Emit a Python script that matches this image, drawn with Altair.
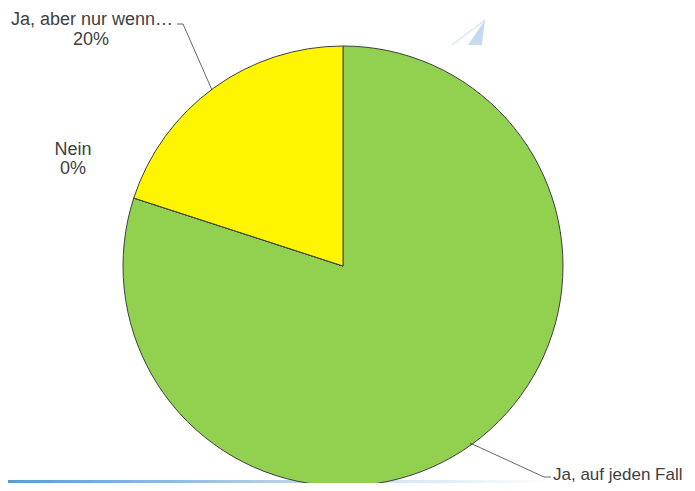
import altair as alt
import pandas as pd

categories = ["Ja, auf jeden Fall", "Nein", "Ja, aber nur wenn…"]
values = [80, 0, 20]
colors = ["#92D050", "#FFFFFF", "#FFF500"]
order = [0, 1, 2]

pie_df = pd.DataFrame({"cat": categories, "val": values, "ord": order})

CX, CY, R = 335, 258, 220

pie = alt.Chart(pie_df).mark_arc(stroke="#404040", strokeWidth=1, outerRadius=R).encode(
    theta=alt.Theta("val:Q", stack=True),
    order=alt.Order("ord:Q"),
    color=alt.Color("cat:N", scale=alt.Scale(domain=categories, range=colors), legend=None),
    x=alt.value(CX), y=alt.value(CY),
)

# labels (annotation)
lab_text = ["Ja, aber nur wenn…", "20%", "Nein", "0%"]
lab_x = [84, 83, 65, 65]
lab_y = [17, 37, 147, 166]
lab_df = pd.DataFrame({"t": lab_text, "x": lab_x, "y": lab_y})
labels = alt.Chart(lab_df).mark_text(font="Liberation Sans", fontSize=18, color="#404040",
                                      align="center", baseline="alphabetic").encode(
    x=alt.X("x:Q", scale=None), y=alt.Y("y:Q", scale=None), text="t:N")

lab2 = alt.Chart(pd.DataFrame({"t": ["Ja, auf jeden Fall"], "x": [545], "y": [472]})).mark_text(
    font="Liberation Sans", fontSize=17, color="#404040", align="left", baseline="alphabetic").encode(
    x=alt.X("x:Q", scale=None), y=alt.Y("y:Q", scale=None), text="t:N")

# leader lines
ll_df = pd.DataFrame({
    "g": ["a", "a", "a", "b", "b", "b"],
    "i": [0, 1, 2, 0, 1, 2],
    "x": [204, 175, 169, 462, 536, 543],
    "y": [82, 16, 16, 435, 469, 469],
})
leaders = alt.Chart(ll_df).mark_line(color="#404040", strokeWidth=0.8).encode(
    x=alt.X("x:Q", scale=None), y=alt.Y("y:Q", scale=None), detail="g:N", order="i:Q")

# logo
logo_fill = alt.Chart(pd.DataFrame({"x": [461], "y": [25]})).mark_point(
    shape="M -0.06 0.7 L 0.94 -0.76 L 0.76 0.7 Z", filled=True, fill="#C6D9F1", opacity=1,
    size=1156, strokeWidth=0).encode(x=alt.X("x:Q", scale=None), y=alt.Y("y:Q", scale=None))
logo_line = alt.Chart(pd.DataFrame({"x": [461], "y": [25]})).mark_point(
    shape="M -1 0.7 L 0.94 -0.76", filled=False, stroke="#C6D9F1", opacity=1,
    size=1156, strokeWidth=1).encode(x=alt.X("x:Q", scale=None), y=alt.Y("y:Q", scale=None))

# bottom gradient bar
bar = alt.Chart(pd.DataFrame({"x": [0], "x2": [679], "y": [472], "y2": [475]})).mark_rect(
    color=alt.Gradient(gradient="linear", x1=0, x2=1, y1=0, y2=0,
                       stops=[alt.GradientStop(color="#5B9BD5", offset=0),
                              alt.GradientStop(color="#BDD7EE", offset=0.45),
                              alt.GradientStop(color="#FFFFFF", offset=0.8)])).encode(
    x=alt.X("x:Q", scale=None), x2="x2:Q", y=alt.Y("y:Q", scale=None), y2="y2:Q")

chart = alt.layer(bar, pie, leaders, labels, lab2, logo_line, logo_fill).properties(
    width=679, height=475, autosize=alt.AutoSizeParams(type="none"), padding=0
).configure_view(stroke=None)

chart.save("out.html", embed_options={"renderer": "svg", "actions": False})
